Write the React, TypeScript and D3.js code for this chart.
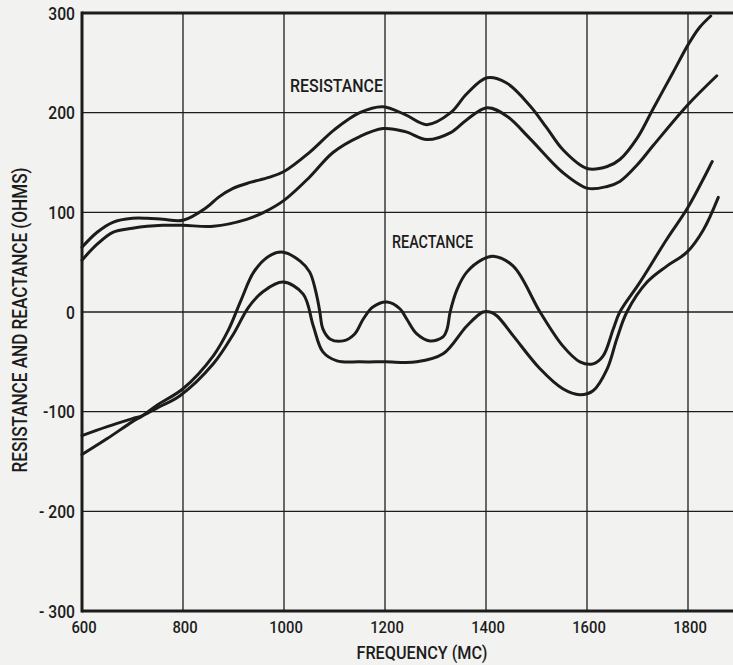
import React from "react";
import * as d3 from "d3";

// ---- data ----
const xTicks = [600, 800, 1000, 1200, 1400, 1600, 1800];
const yTicks = [300, 200, 100, 0, -100, -200, -300];
const yTickLabels = ["300", "200", "100", "0", "-100", "- 200", "- 300"];

const resUpperF = [600, 630, 661, 700, 729, 760, 800, 847, 870, 899, 933, 970, 1000, 1050, 1100, 1150, 1196, 1240, 1283, 1330, 1362, 1402, 1440, 1487, 1520, 1552, 1600, 1640, 1665, 1700, 1731, 1770, 1800, 1822, 1845];
const resUpperV = [65, 80, 90, 94, 94, 93, 92, 105, 115, 124, 130, 135, 141, 160, 183, 200, 206, 198, 188, 200, 219, 235, 230, 207, 185, 163, 144, 146, 153, 175, 204, 240, 268, 285, 297];

const resLowerF = [600, 630, 661, 700, 729, 760, 800, 860, 926, 960, 1000, 1050, 1097, 1150, 1196, 1240, 1283, 1330, 1362, 1402, 1440, 1487, 1552, 1602, 1640, 1665, 1700, 1731, 1798, 1857];
const resLowerV = [52, 68, 80, 84, 86, 87, 87, 86, 93, 100, 112, 135, 160, 176, 184, 181, 173, 180, 193, 205, 197, 174, 140, 124, 126, 131, 148, 167, 207, 237];

const reacUpperF = [600, 650, 700, 720, 750, 800, 860, 890, 915, 940, 970, 998, 1032, 1051, 1065, 1071, 1077, 1091, 1117, 1140, 1157, 1176, 1204, 1230, 1243, 1263, 1289, 1315, 1323, 1329, 1343, 1362, 1394, 1414, 1454, 1507, 1552, 1586, 1612, 1632, 1652, 1665, 1705, 1758, 1800, 1848];
const reacUpperV = [-143, -127, -110, -104, -93, -77, -44, -18, 12, 40, 56, 60, 51, 40, 16, 0, -17, -27, -29, -22, -7, 5, 10, 3, -7, -22, -29, -25, -17, 0, 23, 40, 53, 56, 46, 0, -34, -50, -52, -44, -17, 0, 30, 73, 105, 151];

const reacLowerF = [600, 650, 700, 720, 750, 794, 860, 900, 930, 960, 998, 1038, 1058, 1077, 1105, 1150, 1200, 1263, 1315, 1362, 1394, 1408, 1422, 1454, 1507, 1552, 1586, 1612, 1640, 1659, 1679, 1719, 1758, 1798, 1830, 1860];
const reacLowerV = [-124, -115, -107, -104, -96, -84, -52, -22, 5, 21, 30, 18, -14, -40, -49, -50, -50, -50, -42, -14, 0, 0, -4, -24, -57, -77, -83, -79, -57, -27, 0, 30, 46, 60, 82, 115];

const seriesF = [resUpperF, resLowerF, reacUpperF, reacLowerF];
const seriesV = [resUpperV, resLowerV, reacUpperV, reacLowerV];

const FONT = "Roboto, 'DejaVu Sans', sans-serif";
const INK = "#1c1c1c";

function Label(props: { x: number; y: number; anchor?: string; size: number; sx: number; children: React.ReactNode }) {
  return (
    <text
      transform={`translate(${props.x},${props.y}) scale(${props.sx},1)`}
      textAnchor={props.anchor || "start"}
      fontFamily={FONT}
      fontSize={props.size}
      fontWeight={500}
      fill={INK}
    >
      {props.children}
    </text>
  );
}

export default function App() {
  const W = 733, H = 665;
  const x = d3.scaleLinear().domain([600, 1900]).range([82, 738.5]);
  const y = d3.scaleLinear().domain([-300, 300]).range([611, 13]);
  const line = d3
    .line<[number, number]>()
    .x((d) => x(d[0]))
    .y((d) => y(d[1]))
    .curve(d3.curveCatmullRom.alpha(0.5));

  return (
    <svg width={W} height={H} style={{ position: "absolute", left: 0, top: 0, background: "#f2f2f0" }}>
      <rect x={0} y={0} width={W} height={H} fill="#f2f2f0" />
      {/* grid */}
      {xTicks.slice(1).map((t) => (
        <line key={"gx" + t} x1={x(t)} x2={x(t)} y1={y(300)} y2={y(-300)} stroke={INK} strokeWidth={1.3} />
      ))}
      {yTicks.slice(1, -1).map((t) => (
        <line key={"gy" + t} x1={x(600)} x2={W} y1={y(t)} y2={y(t)} stroke={INK} strokeWidth={1.3} />
      ))}
      {/* frame */}
      <line x1={x(600)} x2={W} y1={y(300)} y2={y(300)} stroke={INK} strokeWidth={3} />
      <line x1={x(600)} x2={W} y1={y(-300)} y2={y(-300)} stroke={INK} strokeWidth={3} />
      <line x1={x(600)} x2={x(600)} y1={y(300) - 1.5} y2={y(-300) + 1.5} stroke={INK} strokeWidth={3} />

      {/* curves */}
      {seriesF.map((fs, i) => (
        <path
          key={"s" + i}
          d={line(fs.map((f, j) => [f, seriesV[i][j]] as [number, number])) || ""}
          fill="none"
          stroke={INK}
          strokeWidth={3}
          strokeLinecap="round"
          strokeLinejoin="round"
        />
      ))}

      {/* y tick labels */}
      {yTicks.map((t, i) => (
        <Label key={"yl" + t} x={75} y={y(t) + 6.5} anchor="end" size={18} sx={0.87}>
          {yTickLabels[i]}
        </Label>
      ))}
      {/* x tick labels */}
      {xTicks.map((t) => (
        <Label key={"xl" + t} x={x(t) + 2} y={633} anchor="middle" size={17} sx={0.87}>
          {t}
        </Label>
      ))}

      {/* axis titles */}
      <text x={422} y={659} textAnchor="middle" fontFamily={FONT} fontWeight={500} fontSize={18} fill={INK} textLength={131} lengthAdjust="spacingAndGlyphs">
        FREQUENCY (MC)
      </text>
      <text
        transform="translate(27,320) rotate(-90)"
        textAnchor="middle"
        fontFamily={FONT}
        fontWeight={500}
        fontSize={20}
        fill={INK}
        textLength={305}
        lengthAdjust="spacingAndGlyphs"
      >
        RESISTANCE AND REACTANCE (OHMS)
      </text>

      {/* curve labels */}
      <text x={290} y={92} fontFamily={FONT} fontWeight={500} fontSize={19} fill={INK} textLength={93} lengthAdjust="spacingAndGlyphs">
        RESISTANCE
      </text>
      <text x={392} y={248} fontFamily={FONT} fontWeight={500} fontSize={19} fill={INK} textLength={81} lengthAdjust="spacingAndGlyphs">
        REACTANCE
      </text>
    </svg>
  );
}
